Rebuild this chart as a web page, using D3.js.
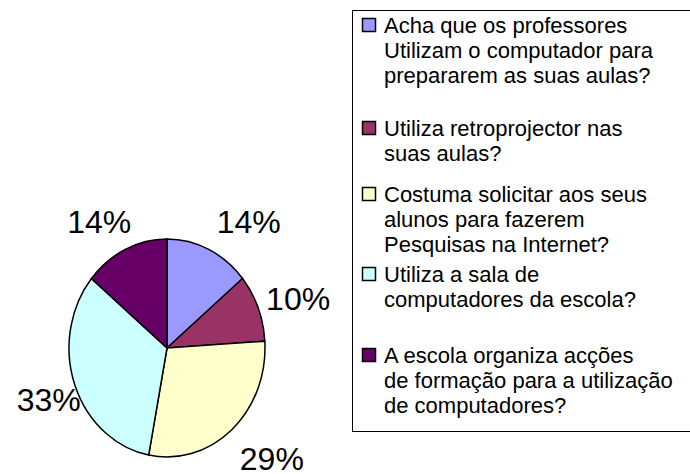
<!doctype html>
<html lang="pt">
<head>
<meta charset="utf-8">
<script src="https://d3js.org/d3.v7.min.js"></script>
<style>
body { margin: 0; background: #fff; }
svg { display: block; font-family: "Liberation Sans", Arial, sans-serif; }
.slice { stroke: #000; stroke-width: 1.5; vector-effect: non-scaling-stroke; }
.pct { font-size: 32px; fill: #000; }
.leg text { font-size: 22px; fill: #000; }
</style>
</head>
<body>
<script>
// data
const categories = [
  ["Acha que os professores", "Utilizam o computador para", "prepararem as suas aulas?"],
  ["Utiliza retroprojector nas", "suas aulas?"],
  ["Costuma solicitar aos seus", "alunos para fazerem", "Pesquisas na Internet?"],
  ["Utiliza a sala de", "computadores da escola?"],
  ["A escola organiza acções", "de formação para a utilização", "de computadores?"]
];
const values = [14, 10, 29, 33, 14];
const colors = ["#9999ff", "#993366", "#ffffcc", "#ccffff", "#660066"];

// layout
const W = 690, H = 474;
const cx = 167, cy = 348, rx = 98, ry = 109;
const legX = 352.5, legY = 10.5, lineH = 25;
const legFirstBase = [33, 136, 202, 282, 363];

const svg = d3.select("body").append("svg")
  .attr("width", W).attr("height", H);

const pie = d3.pie().sort(null).value(d => d);
const arcs = pie(values);
const arc = d3.arc().innerRadius(0).outerRadius(1);

const g = svg.append("g")
  .attr("transform", "translate(" + cx + "," + cy + ")");

g.append("g")
  .attr("transform", "scale(" + rx + "," + ry + ")")
  .selectAll("path")
  .data(arcs)
  .enter().append("path")
  .attr("class", "slice")
  .attr("fill", (d, i) => colors[i])
  .attr("d", arc);

const total = d3.sum(values);
g.selectAll("text.pct")
  .data(arcs)
  .enter().append("text")
  .attr("class", "pct")
  .each(function(d) {
    const a = (d.startAngle + d.endAngle) / 2;
    const ex = rx * Math.sin(a), ey = -ry * Math.cos(a);
    const right = Math.sin(a) >= 0;
    d3.select(this)
      .attr("x", right ? ex + 8 : ex + 6)
      .attr("y", Math.min(ey - Math.cos(a) * 34 + 3, 111))
      .attr("dy", "0.36em")
      .attr("text-anchor", right ? "start" : "end");
  })
  .text(d => Math.round(d.value / total * 100) + "%");

// legend
const leg = svg.append("g").attr("class", "leg");
leg.append("rect")
  .attr("x", legX).attr("y", legY)
  .attr("width", 360).attr("height", 421)
  .attr("fill", "#fff").attr("stroke", "#000").attr("stroke-width", 1);

categories.forEach(function(lines, i) {
  const base = legFirstBase[i];
  leg.append("rect")
    .attr("x", 362.5).attr("y", base - 14.5)
    .attr("width", 13).attr("height", 13)
    .attr("fill", colors[i]).attr("stroke", "#000").attr("stroke-width", 1.5);
  const t = leg.append("text").attr("x", 384).attr("y", base);
  lines.forEach(function(l, j) {
    t.append("tspan").attr("x", 384).attr("y", base + j * lineH).text(l);
  });
});
</script>
</body>
</html>
